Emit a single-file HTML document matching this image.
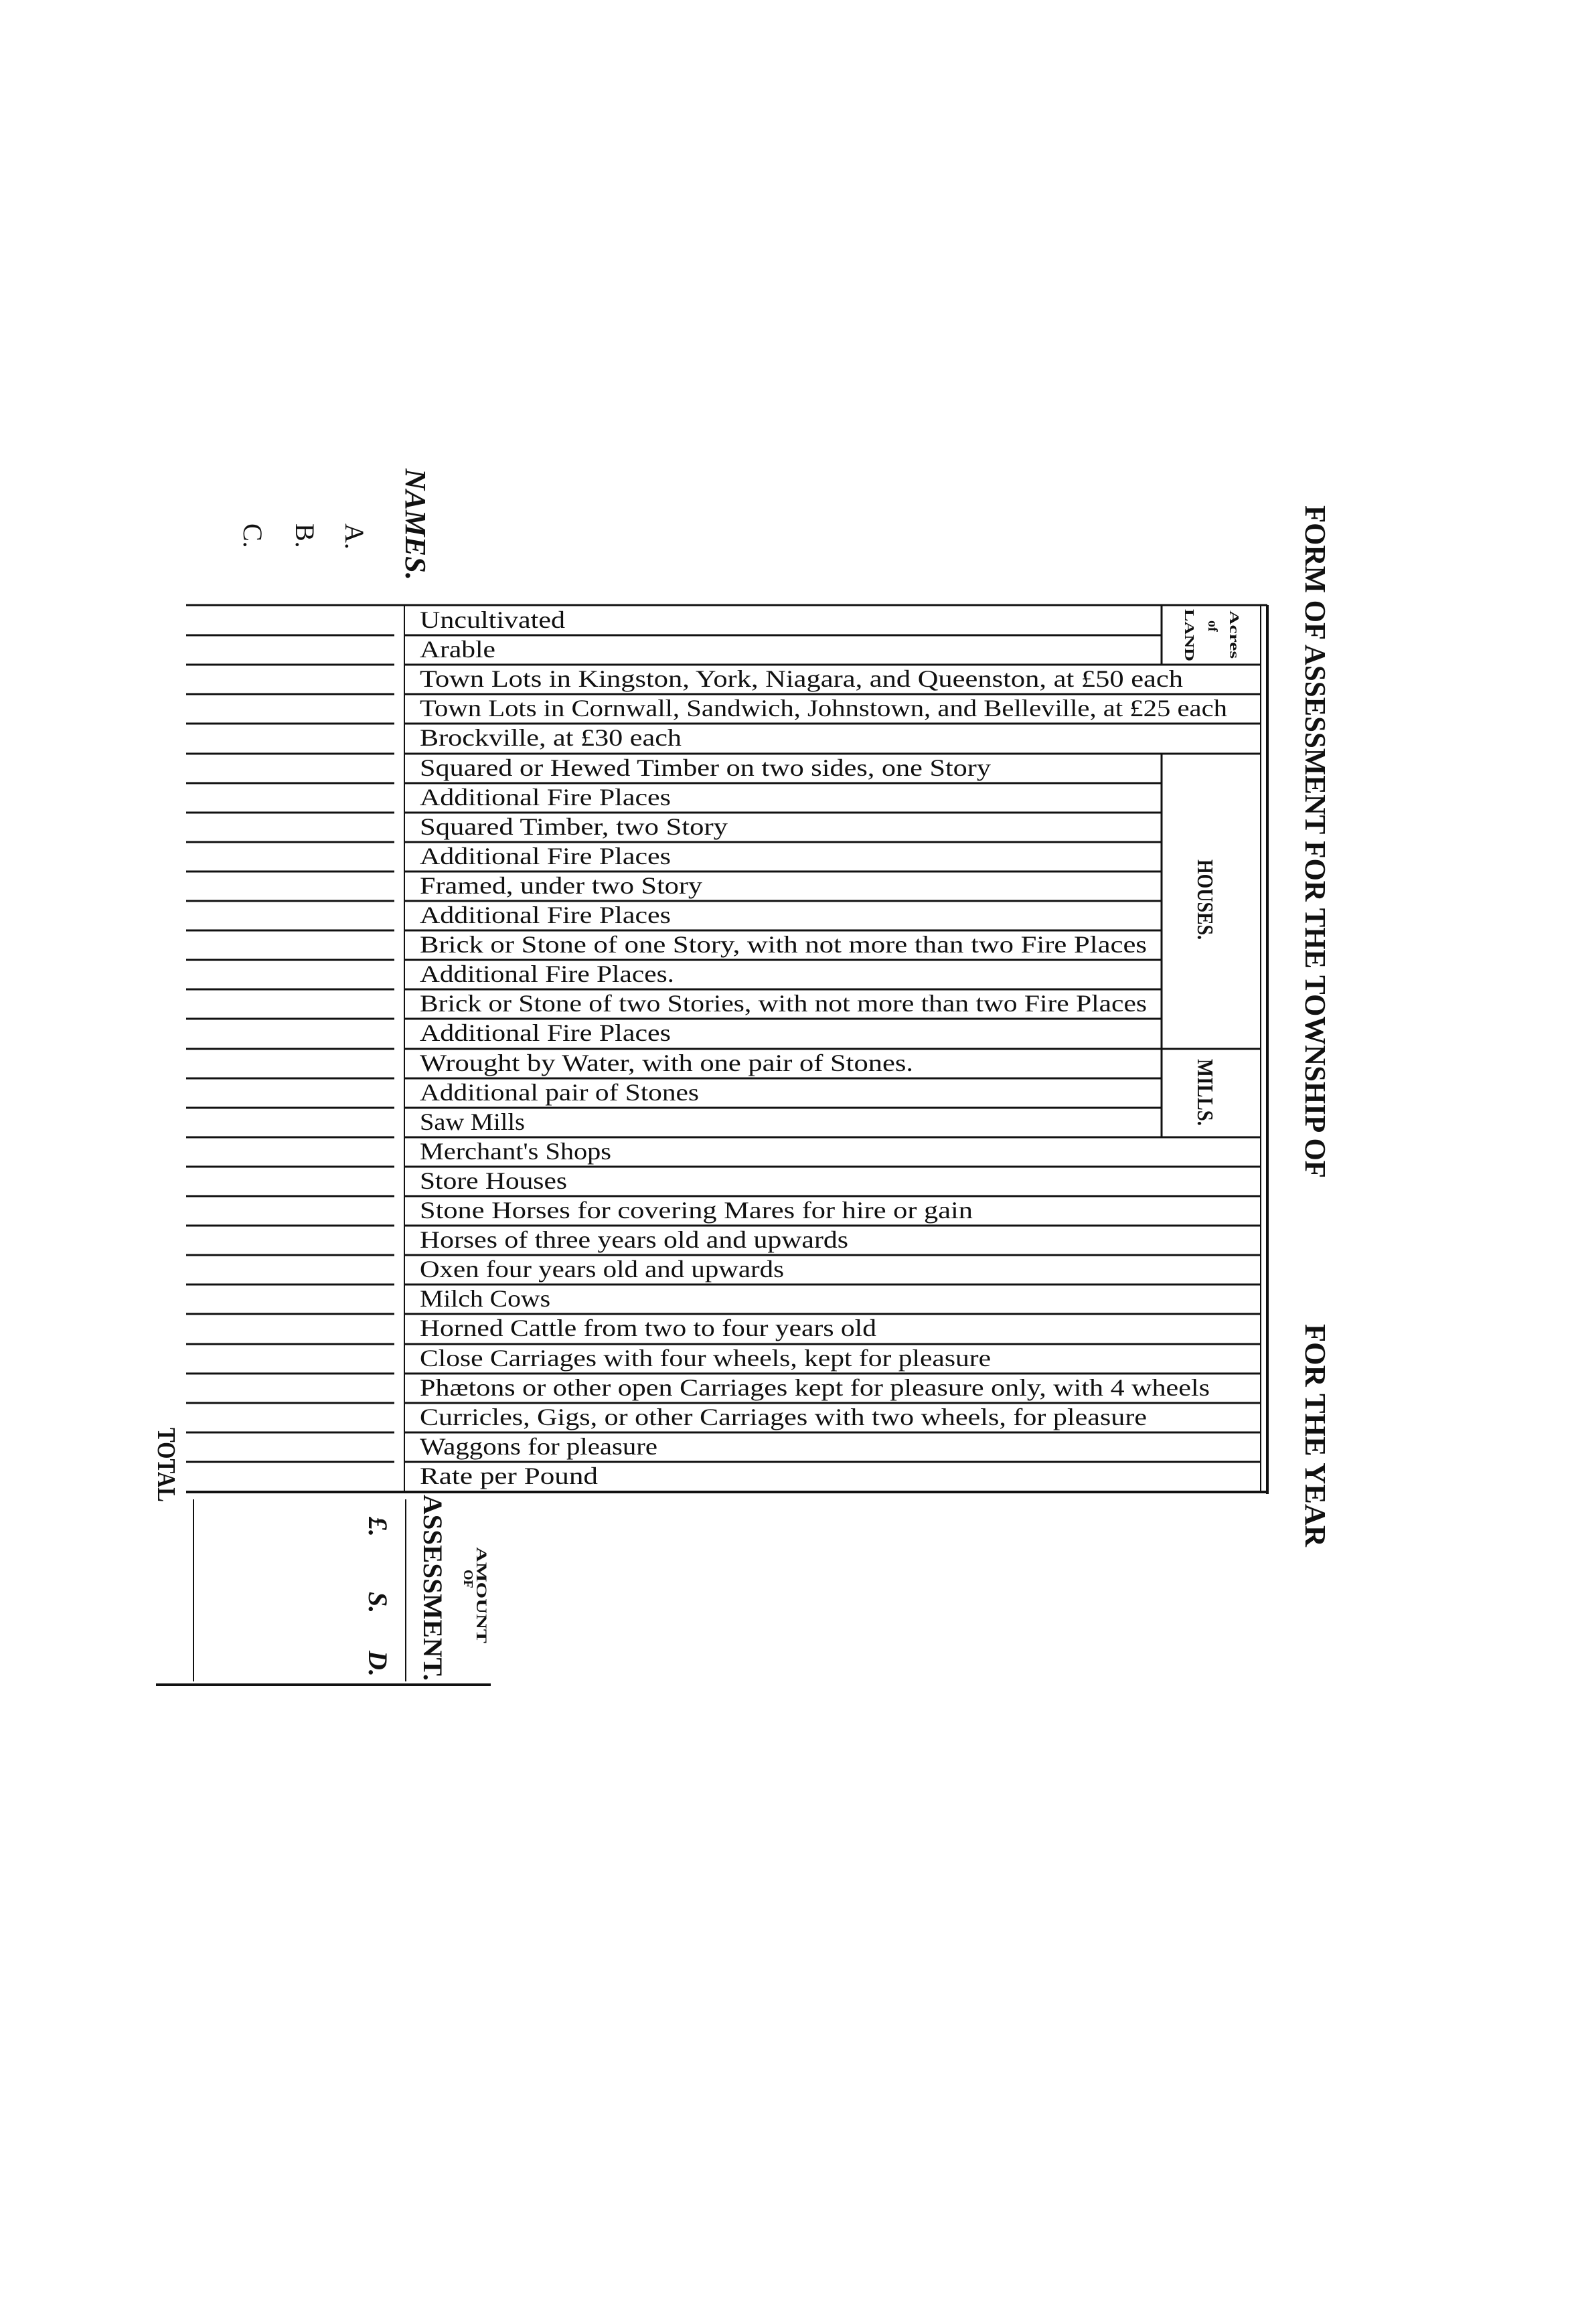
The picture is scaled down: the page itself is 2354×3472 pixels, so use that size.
<!DOCTYPE html>
<html><head><meta charset="utf-8"><style>
html,body{margin:0;padding:0;background:#fff;}
svg{display:block;}
text{font-family:"Liberation Serif",serif;fill:#111;}
</style></head><body>
<svg width="2354" height="3472" viewBox="0 0 2354 3472" xmlns="http://www.w3.org/2000/svg">
<g stroke="#111" fill="none">
<line x1="278" y1="904" x2="1893" y2="904" stroke-width="3"/>
<line x1="604" y1="904" x2="604" y2="2228" stroke-width="2"/>
<line x1="1735" y1="904" x2="1735" y2="993" stroke-width="3"/>
<line x1="1735" y1="1126" x2="1735" y2="1699" stroke-width="3"/>
<line x1="1883" y1="904" x2="1883" y2="2228" stroke-width="2"/>
<line x1="1893" y1="904" x2="1893" y2="2232" stroke-width="4"/>
<line x1="278" y1="2229" x2="1895" y2="2229" stroke-width="4"/>
<line x1="289" y1="2240" x2="289" y2="2512" stroke-width="2"/>
<line x1="606" y1="2240" x2="606" y2="2512" stroke-width="2"/>
<line x1="233" y1="2517" x2="733" y2="2517" stroke-width="4"/>
</g>
<g stroke="#111" stroke-width="3">
<line x1="278" y1="949" x2="589" y2="949"/><line x1="604" y1="949" x2="1735" y2="949"/>
<line x1="278" y1="993" x2="589" y2="993"/><line x1="604" y1="993" x2="1883" y2="993"/>
<line x1="278" y1="1037" x2="589" y2="1037"/><line x1="604" y1="1037" x2="1883" y2="1037"/>
<line x1="278" y1="1081" x2="589" y2="1081"/><line x1="604" y1="1081" x2="1883" y2="1081"/>
<line x1="278" y1="1126" x2="589" y2="1126"/><line x1="604" y1="1126" x2="1883" y2="1126"/>
<line x1="278" y1="1170" x2="589" y2="1170"/><line x1="604" y1="1170" x2="1735" y2="1170"/>
<line x1="278" y1="1214" x2="589" y2="1214"/><line x1="604" y1="1214" x2="1735" y2="1214"/>
<line x1="278" y1="1258" x2="589" y2="1258"/><line x1="604" y1="1258" x2="1735" y2="1258"/>
<line x1="278" y1="1302" x2="589" y2="1302"/><line x1="604" y1="1302" x2="1735" y2="1302"/>
<line x1="278" y1="1346" x2="589" y2="1346"/><line x1="604" y1="1346" x2="1735" y2="1346"/>
<line x1="278" y1="1390" x2="589" y2="1390"/><line x1="604" y1="1390" x2="1735" y2="1390"/>
<line x1="278" y1="1434" x2="589" y2="1434"/><line x1="604" y1="1434" x2="1735" y2="1434"/>
<line x1="278" y1="1478" x2="589" y2="1478"/><line x1="604" y1="1478" x2="1735" y2="1478"/>
<line x1="278" y1="1522" x2="589" y2="1522"/><line x1="604" y1="1522" x2="1735" y2="1522"/>
<line x1="278" y1="1567" x2="589" y2="1567"/><line x1="604" y1="1567" x2="1883" y2="1567"/>
<line x1="278" y1="1611" x2="589" y2="1611"/><line x1="604" y1="1611" x2="1735" y2="1611"/>
<line x1="278" y1="1655" x2="589" y2="1655"/><line x1="604" y1="1655" x2="1735" y2="1655"/>
<line x1="278" y1="1699" x2="589" y2="1699"/><line x1="604" y1="1699" x2="1883" y2="1699"/>
<line x1="278" y1="1743" x2="589" y2="1743"/><line x1="604" y1="1743" x2="1883" y2="1743"/>
<line x1="278" y1="1787" x2="589" y2="1787"/><line x1="604" y1="1787" x2="1883" y2="1787"/>
<line x1="278" y1="1831" x2="589" y2="1831"/><line x1="604" y1="1831" x2="1883" y2="1831"/>
<line x1="278" y1="1875" x2="589" y2="1875"/><line x1="604" y1="1875" x2="1883" y2="1875"/>
<line x1="278" y1="1919" x2="589" y2="1919"/><line x1="604" y1="1919" x2="1883" y2="1919"/>
<line x1="278" y1="1963" x2="589" y2="1963"/><line x1="604" y1="1963" x2="1883" y2="1963"/>
<line x1="278" y1="2008" x2="589" y2="2008"/><line x1="604" y1="2008" x2="1883" y2="2008"/>
<line x1="278" y1="2052" x2="589" y2="2052"/><line x1="604" y1="2052" x2="1883" y2="2052"/>
<line x1="278" y1="2096" x2="589" y2="2096"/><line x1="604" y1="2096" x2="1883" y2="2096"/>
<line x1="278" y1="2140" x2="589" y2="2140"/><line x1="604" y1="2140" x2="1883" y2="2140"/>
<line x1="278" y1="2184" x2="589" y2="2184"/><line x1="604" y1="2184" x2="1883" y2="2184"/>
</g>
<g font-size="36">
<text x="627" y="938" textLength="217" lengthAdjust="spacingAndGlyphs">Uncultivated</text>
<text x="627" y="982" textLength="113" lengthAdjust="spacingAndGlyphs">Arable</text>
<text x="627" y="1026" textLength="1140" lengthAdjust="spacingAndGlyphs">Town Lots in Kingston, York, Niagara, and Queenston, at £50 each</text>
<text x="627" y="1070" textLength="1206" lengthAdjust="spacingAndGlyphs">Town Lots in Cornwall, Sandwich, Johnstown, and Belleville, at £25 each</text>
<text x="627" y="1114" textLength="391" lengthAdjust="spacingAndGlyphs">Brockville, at £30 each</text>
<text x="627" y="1159" textLength="853" lengthAdjust="spacingAndGlyphs">Squared or Hewed Timber on two sides, one Story</text>
<text x="627" y="1203" textLength="375" lengthAdjust="spacingAndGlyphs">Additional Fire Places</text>
<text x="627" y="1247" textLength="460" lengthAdjust="spacingAndGlyphs">Squared Timber, two Story</text>
<text x="627" y="1291" textLength="375" lengthAdjust="spacingAndGlyphs">Additional Fire Places</text>
<text x="627" y="1335" textLength="422" lengthAdjust="spacingAndGlyphs">Framed, under two Story</text>
<text x="627" y="1379" textLength="375" lengthAdjust="spacingAndGlyphs">Additional Fire Places</text>
<text x="627" y="1423" textLength="1086" lengthAdjust="spacingAndGlyphs">Brick or Stone of one Story, with not more than two Fire Places</text>
<text x="627" y="1467" textLength="380" lengthAdjust="spacingAndGlyphs">Additional Fire Places.</text>
<text x="627" y="1511" textLength="1086" lengthAdjust="spacingAndGlyphs">Brick or Stone of two Stories, with not more than two Fire Places</text>
<text x="627" y="1555" textLength="375" lengthAdjust="spacingAndGlyphs">Additional Fire Places</text>
<text x="627" y="1600" textLength="737" lengthAdjust="spacingAndGlyphs">Wrought by Water, with one pair of Stones.</text>
<text x="627" y="1644" textLength="417" lengthAdjust="spacingAndGlyphs">Additional pair of Stones</text>
<text x="627" y="1688" textLength="157" lengthAdjust="spacingAndGlyphs">Saw Mills</text>
<text x="627" y="1732" textLength="286" lengthAdjust="spacingAndGlyphs">Merchant's Shops</text>
<text x="627" y="1776" textLength="220" lengthAdjust="spacingAndGlyphs">Store Houses</text>
<text x="627" y="1820" textLength="826" lengthAdjust="spacingAndGlyphs">Stone  Horses for covering Mares for hire or gain</text>
<text x="627" y="1864" textLength="640" lengthAdjust="spacingAndGlyphs">Horses of three years old and upwards</text>
<text x="627" y="1908" textLength="544" lengthAdjust="spacingAndGlyphs">Oxen four years old and upwards</text>
<text x="627" y="1952" textLength="195" lengthAdjust="spacingAndGlyphs">Milch Cows</text>
<text x="627" y="1996" textLength="682" lengthAdjust="spacingAndGlyphs">Horned Cattle from two to four years old</text>
<text x="627" y="2041" textLength="853" lengthAdjust="spacingAndGlyphs">Close Carriages with four wheels, kept for pleasure</text>
<text x="627" y="2085" textLength="1180" lengthAdjust="spacingAndGlyphs">Phætons or other open Carriages kept for pleasure only, with 4 wheels</text>
<text x="627" y="2129" textLength="1086" lengthAdjust="spacingAndGlyphs">Curricles, Gigs, or other Carriages with two wheels, for pleasure</text>
<text x="627" y="2173" textLength="355" lengthAdjust="spacingAndGlyphs">Waggons for pleasure</text>
<text x="627" y="2217" textLength="266" lengthAdjust="spacingAndGlyphs">Rate per Pound</text>
</g>
<g font-weight="bold">
<text transform="translate(1950,755) rotate(90)" font-size="44" textLength="1005" lengthAdjust="spacingAndGlyphs">FORM OF ASSESSMENT FOR THE TOWNSHIP OF</text>
<text transform="translate(1950,1978) rotate(90)" font-size="44" textLength="333" lengthAdjust="spacingAndGlyphs">FOR THE YEAR</text>
<text transform="translate(606,700) rotate(90)" font-size="44" font-style="italic" textLength="167" lengthAdjust="spacingAndGlyphs">NAMES.</text>
<text transform="translate(1789,1284) rotate(90)" font-size="34" textLength="120" lengthAdjust="spacingAndGlyphs">HOUSES.</text>
<text transform="translate(1789,1582) rotate(90)" font-size="34" textLength="100" lengthAdjust="spacingAndGlyphs">MILLS.</text>
<text transform="translate(1837,912) rotate(90)" font-size="20" textLength="72" lengthAdjust="spacingAndGlyphs">Acres</text>
<text transform="translate(1805,927) rotate(90)" font-size="20">of</text>
<text transform="translate(1770,910) rotate(90)" font-size="20" textLength="78" lengthAdjust="spacingAndGlyphs">LAND</text>
<text transform="translate(236,2133) rotate(90)" font-size="38" textLength="111" lengthAdjust="spacingAndGlyphs">TOTAL</text>
<text transform="translate(633,2233) rotate(90)" font-size="40" textLength="278" lengthAdjust="spacingAndGlyphs">ASSESSMENT.</text>
<text transform="translate(693,2345) rotate(90)" font-size="20">OF</text>
<text transform="translate(712,2311) rotate(90)" font-size="22" textLength="144" lengthAdjust="spacingAndGlyphs">AMOUNT</text>
<text transform="translate(551,2266) rotate(90)" font-size="40" font-style="italic">£.</text>
<text transform="translate(551,2378) rotate(90)" font-size="40" font-style="italic">S.</text>
<text transform="translate(551,2466) rotate(90)" font-size="40" font-style="italic">D.</text>
</g>
<g font-size="40">
<text transform="translate(516,782) rotate(90)">A.</text>
<text transform="translate(442,782) rotate(90)">B.</text>
<text transform="translate(364,782) rotate(90)">C.</text>
</g>
</svg>
</body></html>
